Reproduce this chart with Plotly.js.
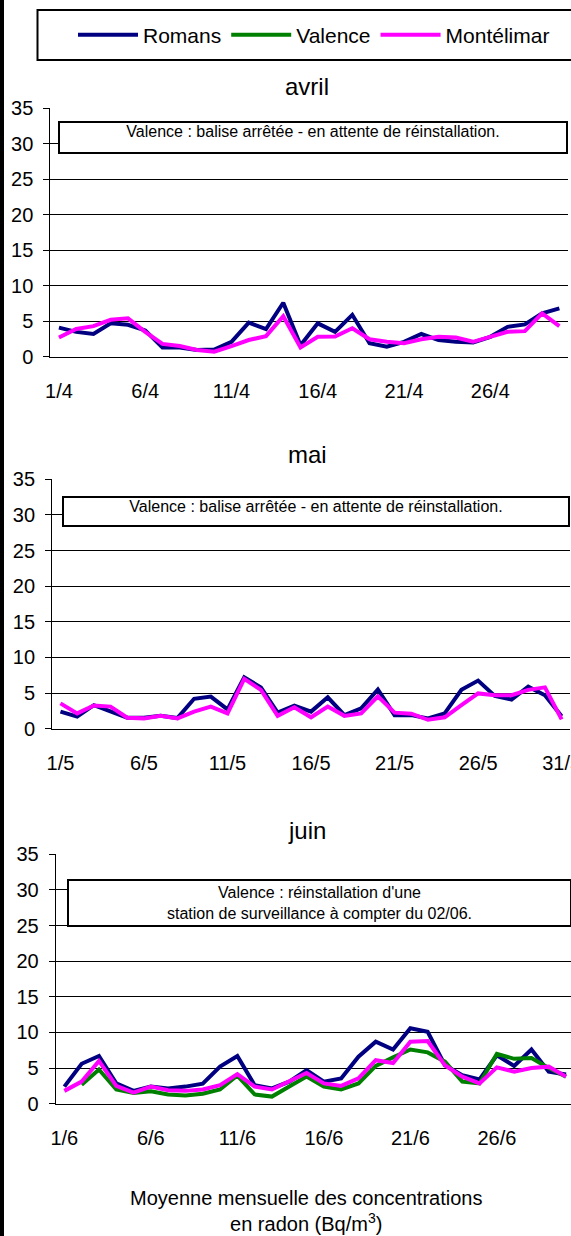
<!DOCTYPE html>
<html><head><meta charset="utf-8">
<script src="https://cdn.plot.ly/plotly-3.0.1.min.js"></script>
<style>
html,body{margin:0;padding:0;background:#fff;overflow:hidden}
#chart{width:571px;height:1236px}
#edge{position:absolute;left:0;top:0;width:4px;height:1236px;background:#000;z-index:10}
</style></head><body>
<div id="chart"></div><div id="edge"></div>
<script>
// ---- data ----
const seriesNames = ['Romans', 'Valence', 'Montélimar'];
const seriesColors = ['#000080', '#008000', '#FF00FF'];

const monthTitles = ['avril', 'mai', 'juin'];

const avrilRomans = [4.1, 3.5, 3.2, 4.7, 4.5, 3.7, 1.3, 1.3, 0.95, 1.0, 2.1, 4.8, 3.9, 7.6, 1.6, 4.7, 3.5, 5.9, 1.9, 1.4, 2.1, 3.2, 2.35, 2.1, 2.0, 2.8, 4.2, 4.55, 6.1, 6.8];
const avrilMontelimar = [2.7, 3.9, 4.3, 5.2, 5.4, 3.5, 1.8, 1.5, 0.95, 0.7, 1.5, 2.35, 2.9, 5.7, 1.3, 2.8, 2.85, 4.0, 2.45, 2.1, 1.9, 2.45, 2.8, 2.7, 2.1, 2.85, 3.5, 3.6, 6.1, 4.3];

const maiRomans = [2.4, 1.7, 3.3, 2.4, 1.55, 1.55, 1.8, 1.5, 4.2, 4.5, 2.7, 7.2, 5.8, 2.25, 3.25, 2.4, 4.4, 1.9, 2.85, 5.5, 1.9, 1.9, 1.45, 2.15, 5.45, 6.75, 4.6, 4.1, 5.9, 4.7, 1.75];
const maiMontelimar = [3.55, 2.15, 3.25, 3.1, 1.55, 1.45, 1.8, 1.45, 2.4, 3.1, 2.15, 7.0, 5.45, 1.8, 3.0, 1.6, 3.1, 1.8, 2.15, 4.55, 2.25, 2.1, 1.25, 1.6, 3.3, 4.95, 4.7, 4.7, 5.45, 5.8, 1.3];

const juinRomans = [2.4, 5.6, 6.7, 2.85, 1.8, 2.4, 2.15, 2.4, 2.8, 5.2, 6.7, 2.6, 2.15, 3.1, 4.7, 3.1, 3.55, 6.6, 8.7, 7.6, 10.6, 10.1, 5.4, 4.0, 3.4, 6.8, 5.3, 7.6, 4.5, 4.1];
const juinValence = [null, 2.65, 4.8, 2.0, 1.5, 1.75, 1.3, 1.15, 1.4, 2.0, 3.95, 1.3, 1.0, 2.4, 3.8, 2.4, 2.0, 2.85, 5.3, 6.5, 7.6, 7.2, 5.9, 3.1, 2.85, 7.0, 6.3, 6.4, 5.0, 3.8];
const juinMontelimar = [1.8, 3.1, 6.0, 2.5, 1.55, 2.4, 1.9, 1.8, 2.0, 2.6, 4.15, 2.4, 2.0, 3.1, 4.3, 2.85, 2.5, 3.55, 6.1, 5.7, 8.7, 8.8, 5.4, 3.8, 2.85, 5.1, 4.5, 5.0, 5.2, 3.8];

const avrilTickDays = [1, 6, 11, 16, 21, 26];
const avrilTickLabels = ['1/4', '6/4', '11/4', '16/4', '21/4', '26/4'];
const maiTickDays = [1, 6, 11, 16, 21, 26, 31];
const maiTickLabels = ['1/5', '6/5', '11/5', '16/5', '21/5', '26/5', '31/5'];
const juinTickDays = [1, 6, 11, 16, 21, 26];
const juinTickLabels = ['1/6', '6/6', '11/6', '16/6', '21/6', '26/6'];

const noteAvril = 'Valence : balise arrêtée - en attente de réinstallation.';
const noteMai = 'Valence : balise arrêtée - en attente de réinstallation.';
const noteJuin = "Valence : réinstallation d'une<br>station de surveillance à compter du 02/06.";
const footNote = 'Moyenne mensuelle des concentrations<br>en radon (Bq/m<sup>3</sup>)';

// ---- build ----
const W = 571, H = 1236;
const FONT = 'Liberation Sans, Arial, sans-serif';
const px = v => v / W;
const py = v => 1 - v / H;
const days = arr => arr.map((_, i) => i + 1);

function line(y, s, xa, ya, show) {
  return {x: days(y), y: y, type: 'scatter', mode: 'lines', name: seriesNames[s],
    line: {color: seriesColors[s], width: 4}, xaxis: xa, yaxis: ya,
    showlegend: !!show, legendgroup: seriesNames[s], connectgaps: false, hoverinfo: 'skip'};
}

const data = [
  line(avrilRomans, 0, 'x', 'y'), line(avrilMontelimar, 2, 'x', 'y'),
  line(maiRomans, 0, 'x2', 'y2'), line(maiMontelimar, 2, 'x2', 'y2'),
  line(juinRomans, 0, 'x3', 'y3', true), line(juinValence, 1, 'x3', 'y3', true), line(juinMontelimar, 2, 'x3', 'y3', true)
];

function xMain(dom, range, tv, tt, yref) {
  return {domain: dom, range: range, anchor: yref, tickmode: 'array', tickvals: tv, ticktext: tt,
    ticks: '', showline: true, linecolor: '#000', linewidth: 1, showgrid: false, zeroline: false,
    tickfont: {size: 20, color: '#000', family: FONT}, ticklabelstandoff: 16,
    ticklabeloverflow: 'allow', fixedrange: true};
}
function xTicks(over, range, n, yref) {
  const tv = [];
  for (let k = 0; k <= n; k += 5) tv.push(k + 0.5);
  return {overlaying: over, range: range, anchor: yref, tickmode: 'array', tickvals: tv,
    ticks: 'outside', ticklen: 6, tickcolor: '#000', tickwidth: 1, showticklabels: false,
    showgrid: false, zeroline: false, showline: false, fixedrange: true};
}
function yAx(dom, xref) {
  return {domain: dom, range: [0, 35], anchor: xref, tickmode: 'linear', tick0: 0, dtick: 5,
    showgrid: true, gridcolor: '#000', gridwidth: 1, showline: true, linecolor: '#000', linewidth: 1,
    ticks: 'outside', ticklen: 6, tickcolor: '#000', zeroline: false,
    tickfont: {size: 20, color: '#000', family: FONT}, ticklabelstandoff: 6, fixedrange: true};
}

const r1 = [0.5, 30.5], r2 = [0.5, 31.5], r3 = [0.5, 0.5 + (W - 55.7) / 17.3];

const layout = {
  width: W, height: H, margin: {l: 0, r: 0, t: 0, b: 0},
  paper_bgcolor: '#fff', plot_bgcolor: '#fff',
  font: {family: FONT, color: '#000'},
  xaxis: xMain([px(50.3), px(568)], r1, avrilTickDays, avrilTickLabels, 'y'),
  yaxis: yAx([py(356.7), py(108.3)], 'x'),
  xaxis2: xMain([px(52.1), px(570)], r2, maiTickDays, maiTickLabels, 'y2'),
  yaxis2: yAx([py(728.7), py(479.3)], 'x2'),
  xaxis3: xMain([px(55.7), 1], r3, juinTickDays, juinTickLabels, 'y3'),
  yaxis3: yAx([py(1103.7), py(854.3)], 'x3'),
  xaxis4: xTicks('x', r1, 30, 'y'),
  xaxis5: xTicks('x2', r2, 31, 'y2'),
  xaxis6: xTicks('x3', r3, 30, 'y3'),
  showlegend: true,
  legend: {orientation: 'h', x: px(73), xanchor: 'left', y: py(35), yanchor: 'middle',
    font: {size: 21, family: FONT, color: '#000'}, bgcolor: 'rgba(0,0,0,0)', borderwidth: 0,
    itemwidth: 60, itemclick: false, itemdoubleclick: false},
  shapes: [
    {type: 'rect', xref: 'paper', yref: 'paper', x0: px(37.5), x1: 1.05, y0: py(60), y1: py(10),
      line: {color: '#000', width: 2}, fillcolor: 'rgba(0,0,0,0)', layer: 'below'}
  ],
  annotations: [
    {text: monthTitles[0], xref: 'paper', yref: 'paper', x: px(307), y: py(87), xanchor: 'center', yanchor: 'middle', showarrow: false, font: {size: 24}},
    {text: monthTitles[1], xref: 'paper', yref: 'paper', x: px(307), y: py(454), xanchor: 'center', yanchor: 'middle', showarrow: false, font: {size: 24}},
    {text: monthTitles[2], xref: 'paper', yref: 'paper', x: px(307), y: py(830), xanchor: 'center', yanchor: 'middle', showarrow: false, font: {size: 24}},
    {text: noteAvril, xref: 'paper', yref: 'paper', x: px(313.2), y: py(137.2), xanchor: 'center', yanchor: 'middle', showarrow: false,
      font: {size: 16}, width: 506, height: 29, valign: 'top', align: 'center', bordercolor: '#000', borderwidth: 2, borderpad: 0, bgcolor: '#fff'},
    {text: noteMai, xref: 'paper', yref: 'paper', x: px(315.9), y: py(511.2), xanchor: 'center', yanchor: 'middle', showarrow: false,
      font: {size: 16}, width: 504, height: 27, valign: 'top', align: 'center', bordercolor: '#000', borderwidth: 2, borderpad: 0, bgcolor: '#fff'},
    {text: noteJuin, xref: 'paper', yref: 'paper', x: px(319), y: py(902.5), xanchor: 'center', yanchor: 'middle', showarrow: false,
      font: {size: 16}, width: 501, height: 44, valign: 'middle', align: 'center', bordercolor: '#000', borderwidth: 2, borderpad: 0, bgcolor: '#fff'},
    {text: footNote, xref: 'paper', yref: 'paper', x: px(306), y: py(1211), xanchor: 'center', yanchor: 'middle', showarrow: false, font: {size: 20}}
  ]
};

Plotly.newPlot('chart', data, layout, {staticPlot: true, displayModeBar: false});
</script>
</body></html>
